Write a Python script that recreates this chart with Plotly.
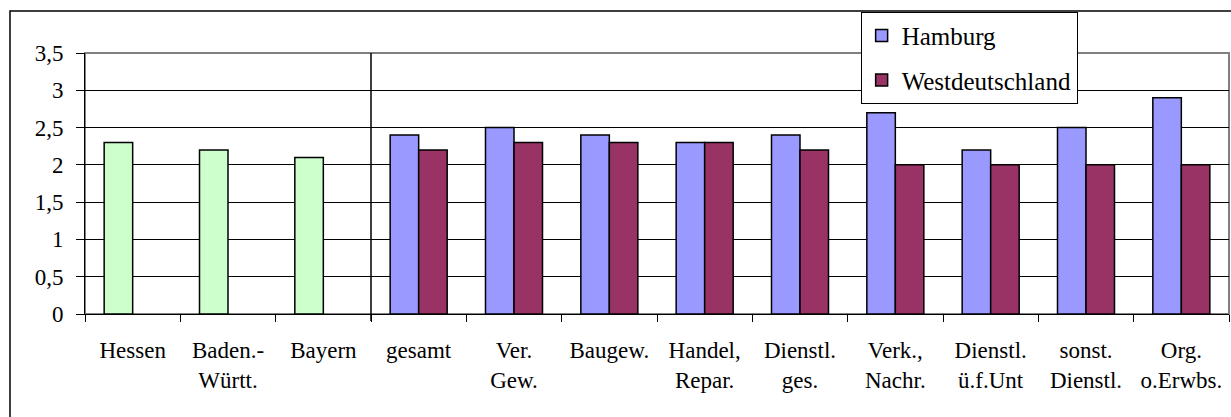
import plotly.graph_objects as go

# categories on the x axis (two-line labels use <br>)
categories = ["Hessen", "Baden.-<br>Württ.", "Bayern", "gesamt", "Ver.<br>Gew.",
              "Baugew.", "Handel,<br>Repar.", "Dienstl.<br>ges.", "Verk.,<br>Nachr.",
              "Dienstl.<br>ü.f.Unt", "sonst.<br>Dienstl.", "Org.<br>o.Erwbs."]

laender = ["Hessen", "Baden.-<br>Württ.", "Bayern"]
laender_values = [2.3, 2.2, 2.1]

branchen = categories[3:]
hamburg_values = [2.4, 2.5, 2.4, 2.3, 2.4, 2.7, 2.2, 2.5, 2.9]
west_values = [2.2, 2.3, 2.3, 2.3, 2.2, 2.0, 2.0, 2.0, 2.0]

y_ticks = [0, 0.5, 1, 1.5, 2, 2.5, 3, 3.5]

font = dict(family="Liberation Serif, Times New Roman, serif", size=23, color="black")
bar_line = dict(color="black", width=1.5)

fig = go.Figure()
fig.add_trace(go.Bar(x=laender, y=laender_values, offsetgroup="a",
                     marker=dict(color="#CCFFCC", line=bar_line),
                     showlegend=False, name="Länder"))
fig.add_trace(go.Bar(x=branchen, y=hamburg_values, offsetgroup="a",
                     marker=dict(color="#9999FF", line=bar_line),
                     name="Hamburg", legendgroup="h"))
fig.add_trace(go.Bar(x=branchen, y=west_values, offsetgroup="b",
                     marker=dict(color="#993366", line=bar_line),
                     name="Westdeutschland", legendgroup="w"))

fig.update_layout(
    width=1231, height=417,
    margin=dict(l=85, r=2, t=53, b=103, autoexpand=False),
    paper_bgcolor="white", plot_bgcolor="white",
    font=font,
    separators=",.",
    barmode="group", bargap=0.402, bargroupgap=0,
    legend=dict(x=0.678, y=1.158, xanchor="left", yanchor="top",
                bgcolor="white", bordercolor="black", borderwidth=1,
                font=dict(size=25), tracegroupgap=9, traceorder="grouped"),
    xaxis=dict(categoryorder="array", categoryarray=categories,
               showline=True, linecolor="black", linewidth=1,
               ticks="outside", tickson="boundaries", ticklen=7,
               tickcolor="black", showgrid=False, ticklabelstandoff=15,
               automargin=False),
    yaxis=dict(range=[0, 3.5], tickvals=y_ticks, showline=True,
               linecolor="black", linewidth=1, ticks="outside", ticklen=8,
               tickcolor="black", showgrid=True, gridcolor="black",
               gridwidth=1, zeroline=False, ticklabelstandoff=8,
               automargin=False),
)

# grey plot-area border (top and right)
fig.add_shape(type="rect", xref="paper", yref="paper", x0=0, x1=1, y0=0, y1=1,
              line=dict(color="#808080", width=2), layer="below")
# separator between Länder and branches
fig.add_shape(type="line", xref="x", yref="paper", x0=2.5, x1=2.5,
              y0=-7 / 261, y1=1, line=dict(color="black", width=1.5))
# outer chart frame
fig.add_shape(type="rect", xref="paper", yref="paper",
              x0=-75 / 1144, x1=1.1, y0=-0.5, y1=(314 - 11) / 261,
              line=dict(color="black", width=1.5), layer="below")

fig.write_html("out.html", config={"displayModeBar": False},
               post_script="document.body.style.margin='0';")
